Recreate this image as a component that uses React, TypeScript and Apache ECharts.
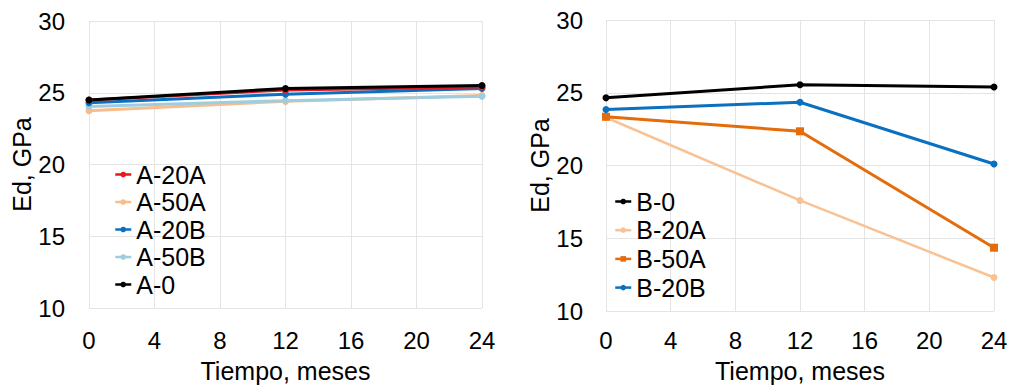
import React, { useEffect, useRef } from "react";
import * as echarts from "echarts";

const months = [0, 12, 24];
const xTicks = [0, 4, 8, 12, 16, 20, 24];

const a20A = [24.5, 25.2, 25.4];
const a50A = [23.75, 24.4, 24.8];
const a20B = [24.3, 24.9, 25.3];
const a50B = [24.05, 24.45, 24.75];
const a0 = [24.5, 25.3, 25.5];

const b0 = [24.65, 25.55, 25.4];
const b20A = [23.3, 17.6, 12.3];
const b50A = [23.35, 22.35, 14.35];
const b20B = [23.85, 24.35, 20.1];

const FONT = "Liberation Sans";

const pairs = (ys: number[]) => months.map((m, i) => [m, ys[i]]);

export default function App() {
  const ref = useRef<HTMLDivElement>(null);
  useEffect(() => {
    const chart = echarts.init(ref.current!, null, { renderer: "svg" });
    const grid = "#e4e4e4";
    const xAxisBase = (gridIndex: number, labelMargin: number, nameGap: number) => ({
      type: "value",
      gridIndex,
      min: xTicks[0],
      max: xTicks[xTicks.length - 1],
      interval: 4,
      name: "Tiempo, meses",
      nameLocation: "middle",
      nameGap,
      nameTextStyle: { fontSize: 25, color: "#000", fontFamily: FONT },
      axisLine: { show: false },
      axisTick: { show: false },
      axisLabel: { fontSize: 24, color: "#000", fontFamily: FONT, margin: labelMargin },
      splitLine: { show: true, lineStyle: { color: grid, width: 1 } },
    });
    const yAxisBase = (gridIndex: number, labelMargin: number) => ({
      type: "value",
      gridIndex,
      min: 10,
      max: 30,
      interval: 5,
      name: "Ed, GPa",
      nameLocation: "middle",
      nameGap: 53,
      nameTextStyle: { fontSize: 25, color: "#000", fontFamily: FONT },
      axisLine: { show: false },
      axisTick: { show: false },
      axisLabel: { fontSize: 24, color: "#000", fontFamily: FONT, margin: labelMargin },
      splitLine: { show: true, lineStyle: { color: grid, width: 1 } },
    });
    const line = (
      name: string,
      ys: number[],
      color: string,
      idx: number,
      symbol = "circle",
      size = 7,
      width = 3
    ) => ({
      name,
      type: "line",
      xAxisIndex: idx,
      yAxisIndex: idx,
      data: pairs(ys),
      symbol,
      symbolSize: size,
      showSymbol: true,
      lineStyle: { color, width },
      itemStyle: { color },
    });
    const legendBase = {
      orient: "vertical",
      padding: 0,
      itemWidth: 16,
      itemHeight: 7,
      textStyle: {
        fontSize: 25,
        color: "#000",
        fontFamily: FONT,
        lineHeight: 25,
      },
      lineStyle: { width: 2.5 },
      selectedMode: false,
    };
    chart.setOption({
      animation: false,
      backgroundColor: "#fff",
      grid: [
        { left: 89, top: 21, width: 393, height: 288 },
        { left: 606, top: 20, width: 388, height: 293 },
      ],
      xAxis: [xAxisBase(0, 20, 50), xAxisBase(1, 17, 47)],
      yAxis: [yAxisBase(0, 24), yAxisBase(1, 23)],
      legend: [
        {
          ...legendBase,
          left: 114,
          top: 162,
          itemGap: 2.5,
          data: ["A-20A", "A-50A", "A-20B", "A-50B", "A-0"],
        },
        {
          ...legendBase,
          left: 614,
          top: 189,
          itemGap: 3.7,
          data: ["B-0", "B-20A", "B-50A", "B-20B"],
        },
      ],
      series: [
        line("A-50A", a50A, "#f8bd8c", 0),
        line("A-50B", a50B, "#9fcde0", 0),
        line("A-20B", a20B, "#0c6fbf", 0),
        line("A-20A", a20A, "#e3191f", 0),
        line("A-0", a0, "#000000", 0),
        line("B-20A", b20A, "#f9c295", 1, "circle", 7, 2.5),
        line("B-50A", b50A, "#e46c0a", 1, "rect", 8, 3),
        line("B-20B", b20B, "#0a70c0", 1),
        line("B-0", b0, "#000000", 1),
      ],
    });
    return () => chart.dispose();
  }, []);
  return (
    <div
      ref={ref}
      style={{ position: "absolute", left: 0, top: 0, width: 1011, height: 388 }}
    />
  );
}
